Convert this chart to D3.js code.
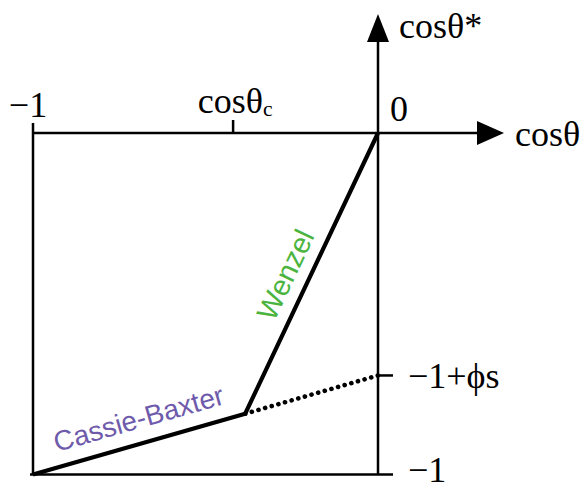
<!DOCTYPE html>
<html>
<head>
<meta charset="utf-8">
<script src="https://cdn.jsdelivr.net/npm/d3@7"></script>
<style>
  body { margin: 0; background: #fff; }
  svg text.math { font-family: "Liberation Serif", "Times New Roman", serif; }
  svg text.lab { font-family: "Liberation Sans", Arial, Helvetica, sans-serif; }
</style>
</head>
<body>
<div id="chart"></div>
<script>
// chart values
const xDomain = [-1, 0]
const yDomain = [-1, 0]
const cosThetaC = -0.42
const phiS = 0.29
const cassiePts = [[-1, -1], [-0.385, -0.822]]
const wenzelPts = [[-0.385, -0.822], [0, 0]]
const dottedPts = [[-0.385, -0.822], [0, -1 + phiS]]

let width = 585
let height = 483

let svg = d3.select('#chart')
  .append('svg')
  .attr('width', width)
  .attr('height', height)

// scales
let xScale = d3.scaleLinear().domain(xDomain).range([33, 378])
let yScale = d3.scaleLinear().domain(yDomain).range([474.5, 133])

let x0 = xScale(0), y0 = yScale(0)
let xL = xScale(-1), yB = yScale(-1)

let g = svg.append('g')
  .attr('stroke', '#000')
  .attr('stroke-width', 2.5)
  .attr('fill', 'none')

// box / axes
g.append('line').attr('x1', xL).attr('y1', y0 - 10).attr('x2', xL).attr('y2', yB) // left, with -1 tick
g.append('line').attr('x1', xL).attr('y1', y0).attr('x2', 480).attr('y2', y0)     // top (x axis)
g.append('line').attr('x1', xL - 3).attr('y1', yB).attr('x2', x0 + 15).attr('y2', yB) // bottom, -1 tick
g.append('line').attr('x1', x0).attr('y1', yB).attr('x2', x0).attr('y2', 40)       // y axis

// cosθc tick
g.append('line')
  .attr('x1', xScale(cosThetaC)).attr('x2', xScale(cosThetaC))
  .attr('y1', y0 - 13).attr('y2', y0)
// -1+φs tick
g.append('line')
  .attr('x1', x0).attr('x2', x0 + 15)
  .attr('y1', yScale(-1 + phiS)).attr('y2', yScale(-1 + phiS))

// arrow heads
svg.append('path')
  .attr('d', `M${x0},14 L${x0 - 11},42 L${x0 + 11},42 Z`)
  .attr('fill', '#000')
svg.append('path')
  .attr('d', `M504,${y0} L477,${y0 - 12} L477,${y0 + 12} Z`)
  .attr('fill', '#000')

// curves
let line = d3.line()
  .x(d => xScale(d[0]))
  .y(d => yScale(d[1]))

svg.append('path')
  .datum(dottedPts)
  .attr('d', line)
  .attr('fill', 'none')
  .attr('stroke', '#000')
  .attr('stroke-width', 4.6)
  .attr('stroke-linecap', 'round')
  .attr('stroke-dasharray', '0.1 6.8')

svg.append('path')
  .datum(cassiePts.concat(wenzelPts.slice(1)))
  .attr('d', line)
  .attr('fill', 'none')
  .attr('stroke', '#000')
  .attr('stroke-width', 4.2)
  .attr('stroke-linejoin', 'miter')

// tick labels (serif)
let fs = 36
function mathText (x, y, anchor) {
  return svg.append('text')
    .attr('class', 'math')
    .attr('x', x)
    .attr('y', y)
    .attr('font-size', fs)
    .attr('text-anchor', anchor || 'start')
    .attr('fill', '#000')
}

mathText(xL - 5, 117, 'middle').text('\u22121')
let tc = mathText(xScale(cosThetaC) + 2, 113, 'middle')
tc.append('tspan').text('cos\u03b8')
tc.append('tspan').attr('font-size', fs * 0.6).attr('dy', 3).text('c')
mathText(390, 121).text('0')
mathText(399, 38).text('cos\u03b8*')
mathText(515, 146).text('cos\u03b8')
mathText(408, yScale(-1 + phiS) + 13).text('\u22121+\u03d5s')
mathText(408, 482).text('\u22121')

// curve labels
function angleOf (pts) {
  let dx = xScale(pts[1][0]) - xScale(pts[0][0])
  let dy = yScale(pts[1][1]) - yScale(pts[0][1])
  return Math.atan2(dy, dx)
}
function labelAlong (pts, txt, color, off, t, fsz) {
  let a = angleOf(pts)
  let mx = xScale(pts[0][0]) + t * (xScale(pts[1][0]) - xScale(pts[0][0]))
  let my = yScale(pts[0][1]) + t * (yScale(pts[1][1]) - yScale(pts[0][1]))
  // normal pointing "up" relative to the text
  let nx = Math.sin(a), ny = -Math.cos(a)
  svg.append('text')
    .attr('class', 'lab')
    .attr('text-anchor', 'middle')
    .attr('font-size', fsz)
    .attr('fill', color)
    .attr('transform', `translate(${mx + nx * off},${my + ny * off}) rotate(${a * 180 / Math.PI})`)
    .text(txt)
}
labelAlong(cassiePts, 'Cassie-Baxter', '#6f5bab', 15, 0.53, 28)
labelAlong(wenzelPts, 'Wenzel', '#4bb43e', 13, 0.46, 29)
</script>
</body>
</html>
